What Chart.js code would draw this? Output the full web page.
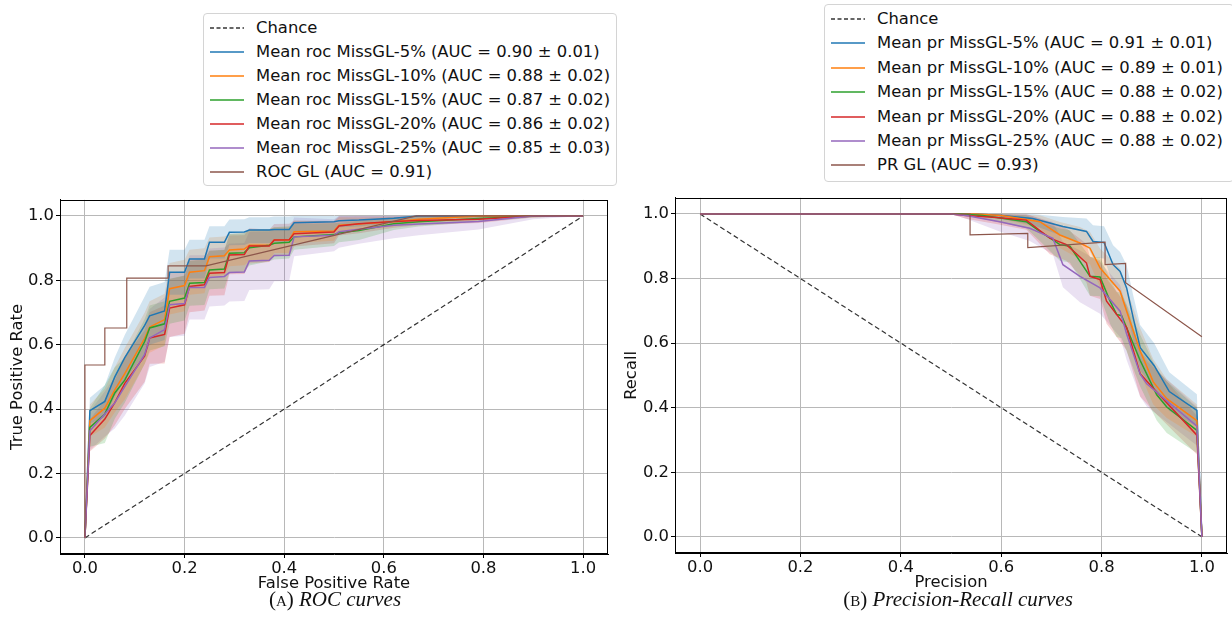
<!DOCTYPE html>
<html lang="en">
<head>
<meta charset="utf-8">
<title>ROC / Precision-Recall</title>
<script src="https://cdn.jsdelivr.net/npm/chart.js@4.4.1/dist/chart.umd.min.js"></script>
<style>
    body { margin: 0; background: #fff; font-family: "DejaVu Sans", sans-serif; }
    #page { position: relative; width: 1232px; height: 628px; overflow: hidden; }
    .plot { position: absolute; }
    .legend { position: absolute; border: 1px solid #d4d4d4; border-radius: 4px; background: #fff; box-sizing: border-box; }
    .legend .row { position: absolute; left: 0; height: 24px; line-height: 24px; font-size: 16.4px; color: #111; white-space: nowrap; }
    .legend svg { position: absolute; left: 6px; top: 10px; }
    .legend .txt { position: absolute; left: 52px; top: 0; }
    .caption { position: absolute; top: 587px; transform: translateX(-50%); white-space: nowrap;
               font-family: "Liberation Serif", "DejaVu Serif", serif; font-size: 21px; color: #111; }
    .caption i { font-style: italic; }
    .caption .sc { font-size: 15px; }
</style>
</head>
<body>
<div id="page">
    <div class="plot" style="left:0;top:188px;width:620px;height:406px;"><canvas id="rocChart" width="620" height="406"></canvas></div>
    <div class="plot" style="left:615px;top:186px;width:617px;height:407px;"><canvas id="prChart" width="617" height="407"></canvas></div>
    <div class="legend" id="rocLegend" style="left:203px;top:13px;width:414px;height:173px;"></div>
    <div class="legend" id="prLegend" style="left:824px;top:4px;width:410px;height:178px;"></div>
    <div class="caption" style="left:335px;">(<span class="sc">A</span>) <i>ROC curves</i></div>
    <div class="caption" style="left:958px;">(<span class="sc">B</span>) <i>Precision-Recall curves</i></div>
</div>

<script>
// Graduations communes aux deux axes
const tickValues = [0, 0.2, 0.4, 0.6, 0.8, 1.0];

// Ligne du hasard
const chanceX = [0, 1];
const chanceRocY = [0, 1];
const chancePrY = [1, 0];

// Courbes ROC moyennes (grille FPR commune)
const rocFpr = [0, 0.01, 0.04, 0.06, 0.08, 0.12, 0.13, 0.16, 0.17, 0.20, 0.21, 0.24, 0.25, 0.28, 0.29, 0.32, 0.33, 0.37, 0.38, 0.41, 0.42, 0.50, 0.51, 0.55, 0.62, 0.67, 0.79, 0.90, 1.0];
const rocTpr5  = [0, 0.395, 0.424, 0.50, 0.56, 0.66, 0.69, 0.705, 0.825, 0.825, 0.866, 0.866, 0.918, 0.918, 0.949, 0.950, 0.956, 0.956, 0.958, 0.958, 0.979, 0.982, 0.985, 0.987, 0.993, 1.0, 1.0, 1.0, 1.0];
const rocTpr10 = [0, 0.364, 0.403, 0.46, 0.51, 0.62, 0.655, 0.678, 0.774, 0.784, 0.825, 0.830, 0.873, 0.876, 0.894, 0.897, 0.909, 0.909, 0.925, 0.925, 0.951, 0.953, 0.971, 0.975, 0.982, 0.990, 1.0, 1.0, 1.0];
const rocTpr15 = [0, 0.343, 0.385, 0.45, 0.49, 0.61, 0.652, 0.665, 0.735, 0.745, 0.791, 0.793, 0.832, 0.835, 0.884, 0.886, 0.901, 0.909, 0.915, 0.918, 0.935, 0.942, 0.948, 0.955, 0.976, 0.982, 0.992, 1.0, 1.0];
const rocTpr20 = [0, 0.318, 0.369, 0.42, 0.48, 0.565, 0.621, 0.632, 0.714, 0.724, 0.781, 0.786, 0.822, 0.824, 0.879, 0.880, 0.907, 0.907, 0.925, 0.926, 0.945, 0.950, 0.969, 0.976, 0.983, 0.986, 0.990, 1.0, 1.0];
const rocTpr25 = [0, 0.333, 0.385, 0.42, 0.47, 0.57, 0.621, 0.647, 0.724, 0.728, 0.778, 0.778, 0.809, 0.812, 0.824, 0.826, 0.860, 0.862, 0.877, 0.878, 0.935, 0.940, 0.951, 0.959, 0.971, 0.975, 0.983, 1.0, 1.0];

// Ecarts-types ROC
const rocStd5  = [0, 0.04, 0.05, 0.06, 0.07, 0.09, 0.09, 0.09, 0.07, 0.07, 0.06, 0.06, 0.05, 0.05, 0.04, 0.04, 0.04, 0.04, 0.04, 0.04, 0.03, 0.03, 0.02, 0.02, 0.015, 0.01, 0.005, 0.003, 0];
const rocStd10 = [0, 0.05, 0.06, 0.07, 0.08, 0.08, 0.08, 0.08, 0.08, 0.08, 0.07, 0.07, 0.06, 0.06, 0.05, 0.05, 0.05, 0.05, 0.04, 0.04, 0.035, 0.03, 0.025, 0.02, 0.015, 0.01, 0.008, 0.004, 0];
const rocStd15 = [0, 0.06, 0.09, 0.08, 0.07, 0.07, 0.07, 0.07, 0.07, 0.07, 0.07, 0.07, 0.06, 0.06, 0.06, 0.06, 0.055, 0.05, 0.05, 0.05, 0.04, 0.035, 0.03, 0.03, 0.02, 0.015, 0.01, 0.005, 0];
const rocStd20 = [0, 0.05, 0.06, 0.07, 0.08, 0.08, 0.08, 0.09, 0.09, 0.09, 0.08, 0.08, 0.07, 0.07, 0.06, 0.06, 0.055, 0.05, 0.05, 0.05, 0.04, 0.035, 0.03, 0.03, 0.02, 0.015, 0.012, 0.005, 0];
const rocStd25 = [0, 0.06, 0.07, 0.08, 0.09, 0.09, 0.09, 0.10, 0.10, 0.10, 0.10, 0.10, 0.09, 0.09, 0.09, 0.09, 0.09, 0.09, 0.08, 0.08, 0.06, 0.05, 0.05, 0.045, 0.04, 0.035, 0.025, 0.01, 0];

// ROC du modèle GL complet
const rocGlFpr = [0, 0, 0.04, 0.04, 0.084, 0.084, 0.167, 0.167, 0.243, 0.665, 1.0];
const rocGlTpr = [0, 0.537, 0.537, 0.652, 0.652, 0.807, 0.807, 0.845, 0.845, 1.0, 1.0];

// Courbes précision-rappel moyennes
const prPrecision5  = [0, 0.55, 0.60, 0.663, 0.723, 0.77, 0.783, 0.805, 0.823, 0.837, 0.85, 0.863, 0.877, 0.905, 0.935, 0.99, 1.0];
const prRecall5     = [1, 1, 0.995, 0.986, 0.961, 0.946, 0.915, 0.912, 0.843, 0.822, 0.771, 0.679, 0.586, 0.53, 0.45, 0.392, 0];
const prStd5        = [0, 0, 0.01, 0.02, 0.03, 0.04, 0.05, 0.05, 0.06, 0.06, 0.07, 0.07, 0.07, 0.07, 0.06, 0.05, 0];
const prPrecision10 = [0, 0.55, 0.60, 0.677, 0.717, 0.757, 0.777, 0.797, 0.837, 0.85, 0.877, 0.903, 0.93, 0.99, 1.0];
const prRecall10    = [1, 1, 0.995, 0.976, 0.935, 0.910, 0.894, 0.833, 0.761, 0.699, 0.576, 0.48, 0.428, 0.36, 0];
const prStd10       = [0, 0, 0.01, 0.02, 0.04, 0.05, 0.05, 0.06, 0.07, 0.07, 0.07, 0.07, 0.06, 0.05, 0];
const prPrecision15 = [0, 0.52, 0.563, 0.65, 0.677, 0.717, 0.737, 0.777, 0.797, 0.817, 0.83, 0.84, 0.877, 0.91, 0.93, 0.99, 1.0];
const prRecall15    = [1, 1, 0.995, 0.976, 0.946, 0.905, 0.90, 0.807, 0.805, 0.73, 0.689, 0.685, 0.546, 0.44, 0.402, 0.33, 0];
const prStd15       = [0, 0, 0.01, 0.02, 0.03, 0.05, 0.05, 0.06, 0.06, 0.07, 0.07, 0.07, 0.08, 0.08, 0.08, 0.07, 0];
const prPrecision20 = [0, 0.50, 0.53, 0.59, 0.65, 0.697, 0.73, 0.77, 0.777, 0.797, 0.81, 0.85, 0.877, 0.903, 0.99, 1.0];
const prRecall20    = [1, 1, 0.995, 0.989, 0.981, 0.925, 0.905, 0.848, 0.807, 0.797, 0.73, 0.648, 0.505, 0.46, 0.315, 0];
const prStd20       = [0, 0, 0.01, 0.02, 0.03, 0.05, 0.05, 0.06, 0.06, 0.06, 0.07, 0.07, 0.07, 0.07, 0.06, 0];
const prPrecision25 = [0, 0.50, 0.53, 0.597, 0.657, 0.703, 0.723, 0.757, 0.797, 0.837, 0.85, 0.877, 0.89, 0.99, 1.0];
const prRecall25    = [1, 1, 0.995, 0.976, 0.956, 0.925, 0.843, 0.807, 0.771, 0.699, 0.628, 0.504, 0.474, 0.343, 0];
const prStd25       = [0, 0, 0.01, 0.03, 0.04, 0.05, 0.07, 0.08, 0.08, 0.08, 0.08, 0.07, 0.07, 0.06, 0];

// Précision-rappel du modèle GL complet
const prGlPrecision = [0, 0.538, 0.538, 0.653, 0.653, 0.807, 0.807, 0.848, 0.848, 1.0];
const prGlRecall    = [1, 1, 0.935, 0.94, 0.896, 0.913, 0.843, 0.847, 0.787, 0.62];

// Légendes
const rocLabels = [
    'Chance',
    'Mean roc MissGL-5% (AUC = 0.90 ± 0.01)',
    'Mean roc MissGL-10% (AUC = 0.88 ± 0.02)',
    'Mean roc MissGL-15% (AUC = 0.87 ± 0.02)',
    'Mean roc MissGL-20% (AUC = 0.86 ± 0.02)',
    'Mean roc MissGL-25% (AUC = 0.85 ± 0.03)',
    'ROC GL (AUC = 0.91)'
];
const prLabels = [
    'Chance',
    'Mean pr MissGL-5% (AUC = 0.91 ± 0.01)',
    'Mean pr MissGL-10% (AUC = 0.89 ± 0.01)',
    'Mean pr MissGL-15% (AUC = 0.88 ± 0.02)',
    'Mean pr MissGL-20% (AUC = 0.88 ± 0.02)',
    'Mean pr MissGL-25% (AUC = 0.88 ± 0.02)',
    'PR GL (AUC = 0.93)'
];

const couleurs = ['#1f77b4', '#ff7f0e', '#2ca02c', '#d62728', '#9467bd'];
const bandes = ['rgba(31,119,180,0.2)', 'rgba(255,127,14,0.2)', 'rgba(44,160,44,0.2)', 'rgba(214,39,40,0.2)', 'rgba(148,103,189,0.2)'];
const brun = '#8c564b';
const chanceColor = 'rgba(0,0,0,0.8)';

Chart.defaults.font.family = "'DejaVu Sans', sans-serif";
Chart.defaults.font.size = 16.4;
Chart.defaults.color = '#111';

function points(xs, ys) {
    return xs.map((x, i) => ({ x: x, y: ys[i] }));
}

// Zone ± écart-type : haut puis bas à l'envers, remplie comme une forme
function bande(xs, ys, std, color) {
    const haut = xs.map((x, i) => ({ x: x, y: Math.min(1, ys[i] + std[i]) }));
    const bas = xs.map((x, i) => ({ x: x, y: Math.max(0, ys[i] - std[i]) })).reverse();
    return {
        data: haut.concat(bas),
        fill: 'shape',
        backgroundColor: color,
        borderWidth: 0,
        pointRadius: 0,
        order: 20
    };
}

function courbe(xs, ys, color, width, order, dash) {
    return {
        data: points(xs, ys),
        borderColor: color,
        borderWidth: width,
        borderDash: dash || [],
        pointRadius: 0,
        fill: false,
        order: order
    };
}

// Cadre complet autour de la zone de tracé
const cadre = {
    id: 'cadre',
    afterDatasetsDraw(chart) {
        const { ctx, chartArea: a } = chart;
        ctx.save();
        ctx.strokeStyle = '#000';
        ctx.lineWidth = 1;
        const l = Math.round(a.left) + 0.5, t = Math.round(a.top) + 0.5;
        const r = Math.round(a.right) - 0.5, b = Math.round(a.bottom) - 0.5;
        ctx.strokeRect(l, t, r - l, b - t);
        ctx.restore();
    }
};

function axe(titre, taille, pos, titrePad) {
    return {
        type: 'linear',
        position: pos,
        min: -0.05,
        max: 1.05,
        afterBuildTicks: axis => { axis.ticks = tickValues.map(v => ({ value: v })); },
        afterFit: axis => {
            if (pos === 'bottom') axis.height = taille; else axis.width = taille;
        },
        grid: { color: '#b8b8b8', lineWidth: 1, tickColor: '#000', tickLength: 4, drawTicks: true },
        border: { display: true, color: '#000', width: 1 },
        ticks: {
            color: '#111',
            padding: pos === 'bottom' ? 1 : 2,
            maxRotation: 0,
            autoSkip: false,
            callback: v => v.toFixed(1)
        },
        title: { display: true, text: titre, color: '#111', padding: titrePad }
    };
}

function dessiner(canvasId, datasets, xTitle, yTitle, yPad, padRight) {
    new Chart(document.getElementById(canvasId).getContext('2d'), {
        type: 'line',
        data: { datasets: datasets },
        options: {
            responsive: false,
            animation: false,
            devicePixelRatio: 1,
            layout: { padding: { top: 10, right: padRight, left: 0, bottom: 0 } },
            scales: {
                x: axe(xTitle, 40, 'bottom', { top: 0, bottom: 0 }),
                y: axe(yTitle, 60, 'left', { top: yPad, bottom: 0 })
            },
            plugins: { legend: { display: false }, tooltip: { enabled: false } }
        },
        plugins: [cadre]
    });
}

function legende(id, labels, spacing, top) {
    const box = document.getElementById(id);
    const styles = [{ color: chanceColor, dash: '4,2.5' }]
        .concat(couleurs.map(c => ({ color: c, dash: '' })))
        .concat([{ color: brun, dash: '' }]);
    labels.forEach((label, i) => {
        const row = document.createElement('div');
        row.className = 'row';
        row.style.top = (top + i * spacing) + 'px';
        const s = styles[i];
        row.innerHTML = '<svg width="34" height="4"><line x1="0" y1="2" x2="34" y2="2" stroke="' + s.color +
            '" stroke-width="1.5"' + (s.dash ? ' stroke-dasharray="' + s.dash + '"' : '') + '/></svg>' +
            '<span class="txt"></span>';
        row.querySelector('.txt').textContent = label;
        box.appendChild(row);
    });
}

document.addEventListener('DOMContentLoaded', () => {
    // Graphique ROC
    const rocTpr = [rocTpr5, rocTpr10, rocTpr15, rocTpr20, rocTpr25];
    const rocStd = [rocStd5, rocStd10, rocStd15, rocStd20, rocStd25];
    const rocSets = [courbe(chanceX, chanceRocY, chanceColor, 1.2, 8, [5, 3])];
    rocTpr.forEach((tpr, i) => {
        rocSets.push(courbe(rocFpr, tpr, couleurs[i], 1.5, 2 + (4 - i) * 0.1));
        rocSets.push(bande(rocFpr, tpr, rocStd[i], bandes[i]));
    });
    rocSets.push(courbe(rocGlFpr, rocGlTpr, brun, 1.2, 1));
    dessiner('rocChart', rocSets, 'False Positive Rate', 'True Positive Rate', 8, 12);

    // Graphique précision-rappel
    const prX = [prPrecision5, prPrecision10, prPrecision15, prPrecision20, prPrecision25];
    const prY = [prRecall5, prRecall10, prRecall15, prRecall20, prRecall25];
    const prStd = [prStd5, prStd10, prStd15, prStd20, prStd25];
    const prSets = [courbe(chanceX, chancePrY, chanceColor, 1.2, 8, [5, 3])];
    prX.forEach((xs, i) => {
        prSets.push(courbe(xs, prY[i], couleurs[i], 1.5, 2 + (4 - i) * 0.1));
        prSets.push(bande(xs, prY[i], prStd[i], bandes[i]));
    });
    prSets.push(courbe(prGlPrecision, prGlRecall, brun, 1.2, 1));
    dessiner('prChart', prSets, 'Precision', 'Recall', 7, 5);

    legende('rocLegend', rocLabels, 24, 1.5);
    legende('prLegend', prLabels, 24.4, 2);
});
</script>
</body>
</html>
